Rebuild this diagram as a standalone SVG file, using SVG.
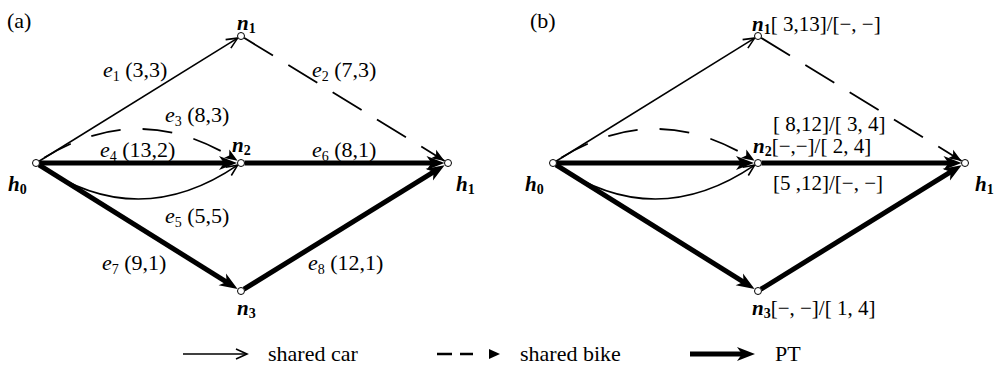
<svg xmlns="http://www.w3.org/2000/svg" width="997" height="373" viewBox="0 0 997 373" font-family="'Liberation Serif','Times New Roman',serif">
<style>
text{font-family:"Liberation Serif","Times New Roman",serif;fill:#000}
.lbl{font-size:22px}
.sub{font-size:14px}
.nd{font-size:21px;font-weight:bold;font-style:italic}
.nsub{font-size:14px;font-weight:bold;font-style:normal}
.ival{font-size:21px}
.thin{stroke:#000;stroke-width:1.6;fill:none;marker-end:url(#mThin)}
.dash{stroke:#000;stroke-width:1.8;fill:none;stroke-dasharray:34 18;marker-end:url(#mDash)}
.thick{stroke:#000;stroke-width:5;fill:none;marker-end:url(#mThick)}
.node{fill:#fff;stroke:#000;stroke-width:1}
</style>
<defs>
<marker id="mThin" markerUnits="userSpaceOnUse" markerWidth="14" markerHeight="12" refX="11" refY="5" orient="auto" overflow="visible">
<path d="M0,0 L11,5 L0,10" fill="none" stroke="#000" stroke-width="1.6"/>
</marker>
<marker id="mDash" markerUnits="userSpaceOnUse" markerWidth="14" markerHeight="12" refX="13" refY="5" orient="auto" overflow="visible">
<path d="M0,0 L13,5 L0,10 L3,5 z" fill="#000"/>
</marker>
<marker id="mThick" markerUnits="userSpaceOnUse" markerWidth="20" markerHeight="16" refX="8" refY="7" orient="auto" overflow="visible">
<path d="M0,0 L18,7 L0,14 L5,7 z" fill="#000"/>
</marker>
</defs>

<text x="7" y="28" class="lbl">(a)</text>
<text x="530" y="28" class="lbl">(b)</text>

<!-- Panel (a) -->
<g id="panel-a">
<g id="a-connectors">
<path id="a-e1" class="thin" d="M39,161.2 L237.6,38.1"/>
<path id="a-e2" class="dash" d="M244,37.8 L444.6,160.9"/>
<path id="a-e3" class="dash" style="stroke-dasharray:30 22;stroke-dashoffset:-6" d="M39,161 Q138,97 237.6,160.8"/>
<path id="a-e4" class="thick" d="M39.5,163 L227,163"/>
<path id="a-e5" class="thin" d="M39,165 Q138,233 237.6,165.2"/>
<path id="a-e6" class="thick" d="M244.5,163 L434.5,163"/>
<path id="a-e7" class="thick" d="M39,164.9 L229.1,283.6"/>
<path id="a-e8" class="thick" d="M244,289.2 L436.1,170.4"/>
</g>
<g id="a-edge-labels">
<text x="103" y="77" class="lbl"><tspan font-style="italic">e</tspan><tspan class="sub" dy="4">1</tspan><tspan dy="-4"> (3,3)</tspan></text>
<text x="312" y="77" class="lbl"><tspan font-style="italic">e</tspan><tspan class="sub" dy="4">2</tspan><tspan dy="-4"> (7,3)</tspan></text>
<text x="165" y="122" class="lbl"><tspan font-style="italic">e</tspan><tspan class="sub" dy="4">3</tspan><tspan dy="-4"> (8,3)</tspan></text>
<text x="100" y="157" class="lbl"><tspan font-style="italic">e</tspan><tspan class="sub" dy="4">4</tspan><tspan dy="-4"> (13,2)</tspan></text>
<text x="312" y="157" class="lbl"><tspan font-style="italic">e</tspan><tspan class="sub" dy="4">6</tspan><tspan dy="-4"> (8,1)</tspan></text>
<text x="165" y="223" class="lbl"><tspan font-style="italic">e</tspan><tspan class="sub" dy="4">5</tspan><tspan dy="-4"> (5,5)</tspan></text>
<text x="102" y="270" class="lbl"><tspan font-style="italic">e</tspan><tspan class="sub" dy="4">7</tspan><tspan dy="-4"> (9,1)</tspan></text>
<text x="308" y="270" class="lbl"><tspan font-style="italic">e</tspan><tspan class="sub" dy="4">8</tspan><tspan dy="-4"> (12,1)</tspan></text>
</g>
<g id="a-h0"><circle class="node" cx="36" cy="163" r="3.5"/><text x="8" y="191" class="nd">h<tspan class="nsub" dy="3">0</tspan></text></g>
<g id="a-n1"><circle class="node" cx="241" cy="36" r="3.5"/><text x="237" y="30" class="nd">n<tspan class="nsub" dy="3">1</tspan></text></g>
<g id="a-n2"><circle class="node" cx="241" cy="163" r="3.5"/><text x="232" y="152" class="nd">n<tspan class="nsub" dy="3">2</tspan></text></g>
<g id="a-n3"><circle class="node" cx="241" cy="291" r="3.5"/><text x="237" y="315" class="nd">n<tspan class="nsub" dy="3">3</tspan></text></g>
<g id="a-h1"><circle class="node" cx="448" cy="163" r="3.5"/><text x="456" y="191" class="nd">h<tspan class="nsub" dy="3">1</tspan></text></g>
</g>

<!-- Panel (b) -->
<g id="panel-b" transform="translate(517,0)">
<g id="b-connectors">
<path id="b-e1" class="thin" d="M39,161.2 L237.6,38.1"/>
<path id="b-e2" class="dash" d="M244,37.8 L444.6,160.9"/>
<path id="b-e3" class="dash" style="stroke-dasharray:30 22;stroke-dashoffset:-6" d="M39,161 Q138,97 237.6,160.8"/>
<path id="b-e4" class="thick" d="M39.5,163 L227,163"/>
<path id="b-e5" class="thin" d="M39,165 Q138,233 237.6,165.2"/>
<path id="b-e6" class="thick" d="M244.5,163 L434.5,163"/>
<path id="b-e7" class="thick" d="M39,164.9 L229.1,283.6"/>
<path id="b-e8" class="thick" d="M244,289.2 L436.1,170.4"/>
</g>
<g id="b-h0"><circle class="node" cx="36" cy="163" r="3.5"/><text x="8" y="191" class="nd">h<tspan class="nsub" dy="3">0</tspan></text></g>
<g id="b-n1"><circle class="node" cx="241" cy="36" r="3.5"/><text x="235" y="31" class="nd">n<tspan class="nsub" dy="3">1</tspan><tspan class="ival" font-weight="normal" font-style="normal" dy="-3">[ 3,13]/[−, −]</tspan></text></g>
<g id="b-n2"><circle class="node" cx="241" cy="163" r="3.5"/><text x="256" y="131" class="ival">[ 8,12]/[ 3, 4]</text><text x="236" y="153" class="nd">n<tspan class="nsub" dy="3">2</tspan><tspan class="ival" font-weight="normal" font-style="normal" dy="-3">[−,−]/[ 2, 4]</tspan></text><text x="256" y="190" class="ival">[5 ,12]/[−, −]</text></g>
<g id="b-n3"><circle class="node" cx="241" cy="291" r="3.5"/><text x="235" y="315" class="nd">n<tspan class="nsub" dy="3">3</tspan><tspan class="ival" font-weight="normal" font-style="normal" dy="-3">[−, −]/[ 1, 4]</tspan></text></g>
<g id="b-h1"><circle class="node" cx="448" cy="163" r="3.5"/><text x="458" y="191" class="nd">h<tspan class="nsub" dy="3">1</tspan></text></g>
</g>

<!-- Legend -->
<g id="legend">
<path class="thin" d="M183,354 L247,354"/>
<text x="268" y="361" class="lbl">shared car</text>
<path d="M437,354 L473,354" stroke="#000" stroke-width="2.4" stroke-dasharray="15 8"/>
<polygon points="489,349 500,354 489,359" fill="#000"/>
<text x="520" y="361" class="lbl">shared bike</text>
<path class="thick" d="M690,354 L745,354"/>
<text x="775" y="361" class="lbl">PT</text>
</g>
</svg>
